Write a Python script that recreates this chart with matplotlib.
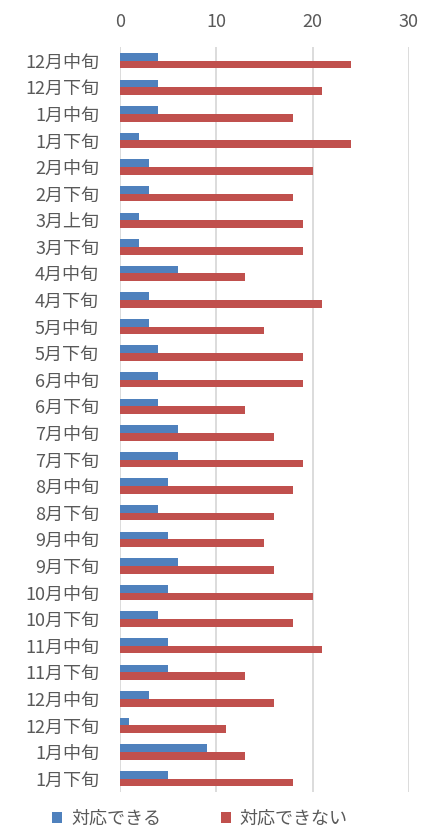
import numpy as np
import matplotlib.pyplot as plt

plt.rcParams['font.family'] = ['Noto Sans CJK JP', 'DejaVu Sans']

# 期間ラベル（上から順）
periods = ['12月中旬', '12月下旬', '1月中旬', '1月下旬', '2月中旬', '2月下旬',
           '3月上旬', '3月下旬', '4月中旬', '4月下旬', '5月中旬', '5月下旬',
           '6月中旬', '6月下旬', '7月中旬', '7月下旬', '8月中旬', '8月下旬',
           '9月中旬', '9月下旬', '10月中旬', '10月下旬', '11月中旬', '11月下旬',
           '12月中旬', '12月下旬', '1月中旬', '1月下旬']
can = [4, 4, 4, 2, 3, 3, 2, 2, 6, 3, 3, 4, 4, 4, 6, 6, 5, 4, 5, 6,
       5, 4, 5, 5, 3, 1, 9, 5]
cannot = [24, 21, 18, 24, 20, 18, 19, 19, 13, 21, 15, 19, 19, 13, 16, 19,
          18, 16, 15, 16, 20, 18, 21, 13, 16, 11, 13, 18]
xticks = [0, 10, 20, 30]

fig = plt.figure(figsize=(4.22, 8.31), dpi=100)
ax = fig.add_axes([0.284, 0.047, 0.685, 0.896])

y = np.arange(len(periods))
h = 0.29
ax.barh(y - h / 2, can, height=h, color='#4F81BD', label='対応できる')
ax.barh(y + h / 2, cannot, height=h, color='#C0504D', label='対応できない')

ax.set_xlim(0, 30)
ax.set_ylim(len(periods) - 0.5, -0.5)
ax.set_xticks(xticks)
ax.set_yticks(y)
ax.set_yticklabels(periods)
ax.xaxis.tick_top()
ax.tick_params(axis='both', length=0, colors='#595959', labelsize=13)
ax.tick_params(axis='x', pad=12)
ax.tick_params(axis='y', pad=15)
ax.grid(axis='x', color='#D9D9D9', linewidth=1.3)
ax.set_axisbelow(True)
for s in ax.spines.values():
    s.set_visible(False)

ax.legend(loc='upper center', bbox_to_anchor=(0.277, -0.002), ncol=2,
          frameon=False, fontsize=13, handlelength=0.55, handleheight=0.55,
          handletextpad=0.5, columnspacing=3.3, labelcolor='#595959')

fig.savefig('out.png', dpi=100)
